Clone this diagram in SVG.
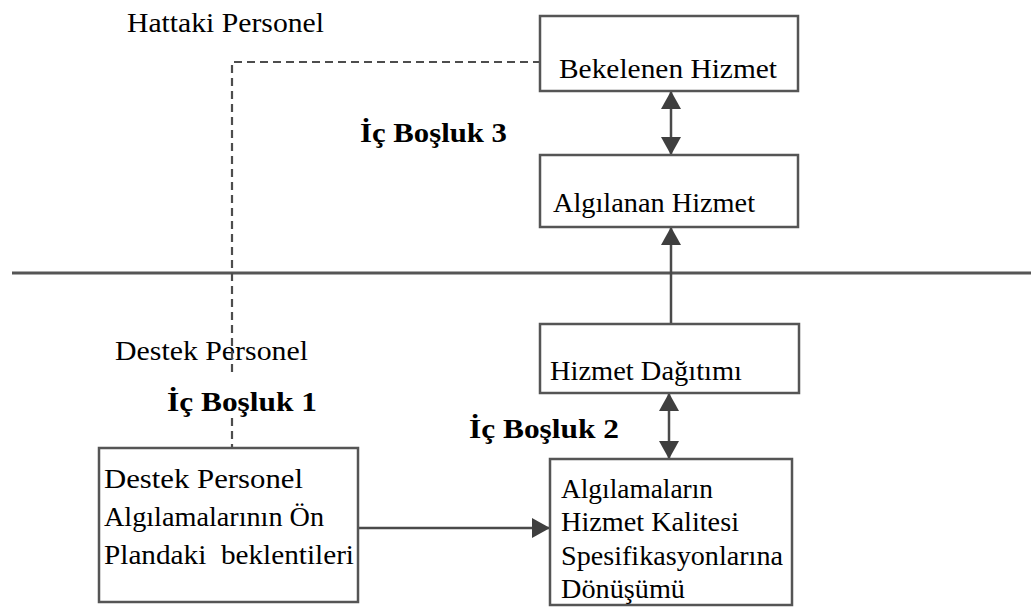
<svg xmlns="http://www.w3.org/2000/svg" width="1031" height="607" viewBox="0 0 1031 607">
  <style>
    .box { fill: #ffffff; stroke: #555555; stroke-width: 2.5; }
    .t { font-family: "Liberation Serif", Tinos, "Times New Roman", Times, serif; font-size: 28px; fill: #000000; }
    .b { font-family: "Liberation Serif", Tinos, "Times New Roman", Times, serif; font-size: 28px; font-weight: bold; fill: #000000; }
    .line { stroke: #4a4a4a; stroke-width: 2.5; fill: none; }
    .dash { stroke: #4d4d4d; stroke-width: 2.2; fill: none; stroke-dasharray: 8 5; }
    .divider { stroke: #555555; stroke-width: 3; }
  </style>
  <defs>
    <marker id="head" viewBox="0 0 18 20" refX="17" refY="10" markerWidth="18" markerHeight="20" markerUnits="userSpaceOnUse" orient="auto-start-reverse">
      <path d="M0,0 L18,10 L0,20 Z" fill="#3f3f3f"/>
    </marker>
  </defs>

  <rect width="1031" height="607" fill="#ffffff"/>

  <!-- zone labels -->
  <text class="t" x="127" y="32" textLength="197" lengthAdjust="spacingAndGlyphs">Hattaki Personel</text>
  <text class="t" x="115" y="360" textLength="193" lengthAdjust="spacingAndGlyphs">Destek Personel</text>

  <!-- line of visibility -->
  <line class="divider" x1="12" y1="273" x2="1031" y2="273"/>

  <!-- connectors -->
  <g id="connectors">
    <path class="dash" d="M232,372 V62 H540"/>
    <path class="dash" d="M232,418 V448"/>
    <line class="line" x1="671" y1="92" x2="671" y2="154" marker-start="url(#head)" marker-end="url(#head)"/>
    <line class="line" x1="671" y1="323" x2="671" y2="228" marker-end="url(#head)"/>
    <line class="line" x1="669" y1="394" x2="669" y2="458" marker-start="url(#head)" marker-end="url(#head)"/>
    <line class="line" x1="358" y1="528" x2="549" y2="528" marker-end="url(#head)"/>
  </g>

  <!-- gap labels -->
  <text class="b" x="360" y="142" textLength="147" lengthAdjust="spacingAndGlyphs">İç Boşluk 3</text>
  <text class="b" x="167" y="411" textLength="150" lengthAdjust="spacingAndGlyphs">İç Boşluk 1</text>
  <text class="b" x="469" y="438" textLength="150" lengthAdjust="spacingAndGlyphs">İç Boşluk 2</text>

  <g id="bekelenen-hizmet">
    <rect class="box" x="540" y="16" width="258" height="75"/>
    <text class="t" x="559" y="78" textLength="218" lengthAdjust="spacingAndGlyphs">Bekelenen Hizmet</text>
  </g>

  <g id="algilanan-hizmet">
    <rect class="box" x="540" y="155" width="258" height="72"/>
    <text class="t" x="553" y="212" textLength="202" lengthAdjust="spacingAndGlyphs">Algılanan Hizmet</text>
  </g>

  <g id="hizmet-dagitimi">
    <rect class="box" x="540" y="324" width="259" height="69"/>
    <text class="t" x="550" y="380" textLength="192" lengthAdjust="spacingAndGlyphs">Hizmet Dağıtımı</text>
  </g>

  <g id="destek-personel-algilamalari">
    <rect class="box" x="99" y="448" width="259" height="154"/>
    <text class="t" x="104" y="488" textLength="199" lengthAdjust="spacingAndGlyphs">Destek Personel</text>
    <text class="t" x="104" y="526" textLength="220" lengthAdjust="spacingAndGlyphs">Algılamalarının Ön</text>
    <text class="t" x="104" y="564" textLength="250" lengthAdjust="spacingAndGlyphs" xml:space="preserve">Plandaki  beklentileri</text>
  </g>

  <g id="kalite-spesifikasyonlari">
    <rect class="box" x="550" y="459" width="242" height="146"/>
    <text class="t" x="561" y="498" textLength="152" lengthAdjust="spacingAndGlyphs">Algılamaların</text>
    <text class="t" x="561" y="531" textLength="178" lengthAdjust="spacingAndGlyphs">Hizmet Kalitesi</text>
    <text class="t" x="561" y="565" textLength="222" lengthAdjust="spacingAndGlyphs">Spesifikasyonlarına</text>
    <text class="t" x="561" y="598" textLength="124" lengthAdjust="spacingAndGlyphs">Dönüşümü</text>
  </g>
</svg>
